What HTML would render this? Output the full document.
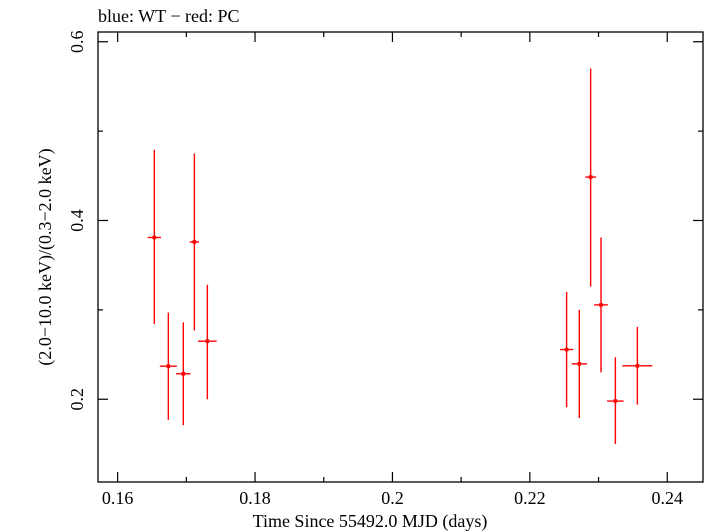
<!DOCTYPE html>
<html><head><meta charset="utf-8"><style>
html,body{margin:0;padding:0;background:#fff;}
svg{display:block;font-family:"Liberation Serif",serif;}
</style></head><body>
<svg id="chart" width="705" height="532" viewBox="0 0 705 532">
<text x="98" y="22" font-size="18">blue: WT − red: PC</text>
<rect x="98" y="32" width="605" height="450" fill="none" stroke="#000" stroke-width="1.3"/>
<g id="axes"></g>
<g id="marks"></g>
<text x="370" y="527" font-size="18" text-anchor="middle">Time Since 55492.0 MJD (days)</text>
<text transform="translate(51,257) rotate(-90)" font-size="18" text-anchor="middle">(2.0−10.0 keV)/(0.3−2.0 keV)</text>
</svg>
<script>
const times=[0.16534,0.16738,0.16956,0.17117,0.17306,0.22535,0.2272,0.22885,0.23036,0.23245,0.23565];
const timeErr=[0.00097,0.00124,0.00105,0.00068,0.00136,0.00097,0.00112,0.00078,0.001,0.0012,0.00218];
const ratios=[0.381,0.237,0.2285,0.376,0.265,0.2556,0.2396,0.4486,0.3056,0.198,0.2374];
const ratioHi=[0.479,0.297,0.286,0.475,0.328,0.320,0.300,0.570,0.381,0.247,0.281];
const ratioLo=[0.284,0.177,0.171,0.277,0.200,0.191,0.179,0.326,0.230,0.150,0.194];
const xTicks=[0.16,0.18,0.2,0.22,0.24];
const xTickLabels=["0.16","0.18","0.2","0.22","0.24"];
const yTicks=[0.2,0.4,0.6];
const yTickLabels=["0.2","0.4","0.6"];
const X0=98,X1=703,Y0=32,Y1=482;
const xMin=0.157141,xMax=0.245205,yMin=0.1074,yMax=0.6109;
const sx=v=>X0+(v-xMin)/(xMax-xMin)*(X1-X0);
const sy=v=>Y1-(v-yMin)/(yMax-yMin)*(Y1-Y0);
const NS="http://www.w3.org/2000/svg";
function mk(tag,attrs,parent){const e=document.createElementNS(NS,tag);for(const k in attrs)e.setAttribute(k,attrs[k]);parent.appendChild(e);return e;}
const axes=document.getElementById('axes'),marks=document.getElementById('marks');
for(let v=0.16;v<=0.2405;v+=0.01){const x=sx(v);const major=Math.abs((v*100)%2)<0.01||Math.abs((v*100)%2-2)<0.01;const L=major?10:5;
 let t=mk('line',{x1:x,x2:x,y1:Y1,y2:Y1-L,stroke:'#000','stroke-width':1.2},axes);
 
 
 t=mk('line',{x1:x,x2:x,y1:Y0,y2:Y0+L,stroke:'#000','stroke-width':1.2},axes);
 
 }
xTicks.forEach((v,i)=>{const t=mk('text',{x:sx(v),y:504,'font-size':18,'text-anchor':'middle'},axes);t.textContent=xTickLabels[i];
 
 });
for(let v=0.2;v<=0.6001;v+=0.1){const y=sy(v);const major=Math.round(v*10)%2===0;const L=major?10:5;
 let t=mk('line',{x1:X0,x2:X0+L,y1:y,y2:y,stroke:'#000','stroke-width':1.2},axes);
 
 
 t=mk('line',{x1:X1,x2:X1-L,y1:y,y2:y,stroke:'#000','stroke-width':1.2},axes);
 
 }
yTicks.forEach((v,i)=>{const t=mk('text',{transform:`translate(83,${sy(v)}) rotate(-90)`,'font-size':18,'text-anchor':'middle'},axes);t.textContent=yTickLabels[i];
 
 });
times.forEach((t,i)=>{const g=mk('g',{},marks);
 
 
 const x=sx(t),y=sy(ratios[i]);
 mk('line',{x1:x,x2:x,y1:sy(ratioHi[i]),y2:sy(ratioLo[i]),stroke:'#f00','stroke-width':1.4},g);
 mk('line',{x1:sx(t-timeErr[i]),x2:sx(t+timeErr[i]),y1:y,y2:y,stroke:'#f00','stroke-width':1.4},g);
 mk('rect',{x:x-1.8,y:y-1.8,width:3.6,height:3.6,fill:'#f00'},g);});
</script>
</body></html>
